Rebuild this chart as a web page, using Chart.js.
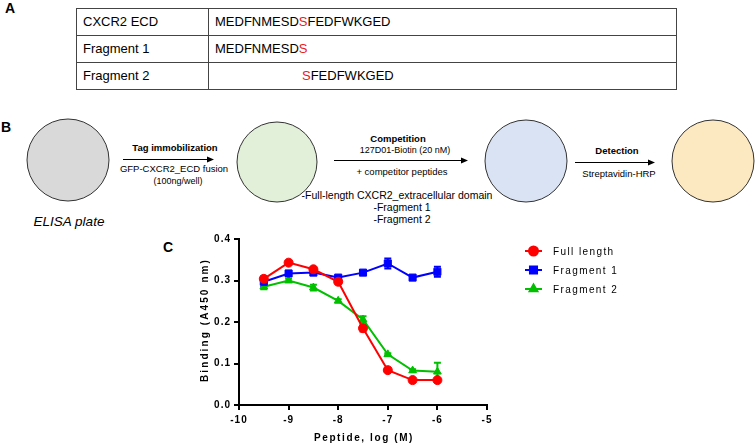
<!DOCTYPE html>
<html>
<head>
<meta charset="utf-8">
<script src="https://cdn.jsdelivr.net/npm/chart.js@4.4.1/dist/chart.umd.min.js"></script>
<style>
  body { margin: 0; background: #fff; width: 755px; height: 443px; overflow: hidden; position: relative; font-family: "Liberation Sans", Arial, sans-serif; }
  #fig { position: absolute; left: 0; top: 0; }
  #chartBox { position: absolute; left: 160px; top: 225px; width: 595px; height: 218px; }
</style>
</head>
<body>
<svg id="fig" width="755" height="443" font-family="Liberation Sans, Arial, sans-serif">
  <!-- panel letters -->
  <text x="5" y="13" font-size="14" font-weight="bold">A</text>
  <text x="1" y="132" font-size="14" font-weight="bold">B</text>
  <text x="163" y="252" font-size="14" font-weight="bold">C</text>

  <!-- A: peptide table -->
  <g stroke="#444" stroke-width="1" fill="none">
    <rect x="76.5" y="8.5" width="600" height="81"/>
    <line x1="76.5" y1="35.5" x2="676.5" y2="35.5"/>
    <line x1="76.5" y1="62.5" x2="676.5" y2="62.5"/>
    <line x1="208.5" y1="8.5" x2="208.5" y2="89.5"/>
  </g>
  <g font-size="13" fill="#000">
    <text x="83" y="26">CXCR2 ECD</text>
    <text x="83" y="53">Fragment 1</text>
    <text x="83" y="80">Fragment 2</text>
    <text x="215" y="26">MEDFNMESD<tspan fill="#e8201c">S</tspan>FEDFWKGED</text>
    <text x="215" y="53">MEDFNMESD<tspan fill="#e8201c">S</tspan></text>
    <text x="302" y="80"><tspan fill="#e8201c">S</tspan>FEDFWKGED</text>
  </g>

  <!-- B: assay schematic -->
  <g stroke="#333" stroke-width="1">
    <circle cx="68" cy="160" r="41" fill="#d9d9d9"/>
    <circle cx="277" cy="162" r="40" fill="#e2efd9"/>
    <circle cx="526" cy="161" r="41" fill="#dae3f3"/>
    <circle cx="713" cy="161" r="41" fill="#fde9c1"/>
  </g>
  <text x="69" y="226" font-size="13.5" font-style="italic" text-anchor="middle">ELISA plate</text>

  <g stroke="#000" stroke-width="1">
    <line x1="123" y1="159.5" x2="208" y2="159.5"/>
    <line x1="334" y1="160.5" x2="462" y2="160.5"/>
    <line x1="575" y1="162.5" x2="649" y2="162.5"/>
  </g>
  <g fill="#000">
    <polygon points="207,156.5 214,159.5 207,162.5"/>
    <polygon points="461,157.5 468,160.5 461,163.5"/>
    <polygon points="648,159.5 655,162.5 648,165.5"/>
  </g>

  <g text-anchor="middle" fill="#000">
    <text x="175" y="151" font-size="9.5" font-weight="bold">Tag immobilization</text>
    <text x="174" y="172" font-size="9.5">GFP-CXCR2_ECD fusion</text>
    <text x="178" y="184" font-size="9">(100ng/well)</text>

    <text x="398" y="142" font-size="9.5" font-weight="bold">Competition</text>
    <text x="405" y="153" font-size="9">127D01-Biotin (20 nM)</text>
    <text x="402" y="175" font-size="9.5">+ competitor peptides</text>
    <text x="397" y="199" font-size="10.5">-Full-length CXCR2_extracellular domain</text>
    <text x="402" y="211" font-size="10.5">-Fragment 1</text>
    <text x="402" y="223" font-size="10.5">-Fragment 2</text>

    <text x="617" y="154" font-size="9.5" font-weight="bold">Detection</text>
    <text x="619" y="177" font-size="9.5">Streptavidin-HRP</text>
  </g>
</svg>

<div id="chartBox"><canvas id="bindingChart"></canvas></div>

<script>
// peptide concentration, log(M)
const concentrations = [-9.5, -9, -8.5, -8, -7.5, -7, -6.5, -6];

// binding, A450 nm (mean and SEM)
const fullLength = [0.304, 0.343, 0.327, 0.297, 0.185, 0.084, 0.060, 0.060];
const fullLengthErr = [0.006, 0.004, 0.004, 0.005, 0.008, 0.004, 0.003, 0.003];
const fragment1 = [0.297, 0.317, 0.319, 0.307, 0.319, 0.341, 0.307, 0.321];
const fragment1Err = [0.012, 0.006, 0.005, 0.004, 0.004, 0.012, 0.004, 0.012];
const fragment2 = [0.285, 0.300, 0.283, 0.251, 0.206, 0.122, 0.083, 0.080];
const fragment2Err = [0.006, 0.004, 0.007, 0.004, 0.008, 0.003, 0.003, 0.022];

const seriesNames = ['Full length', 'Fragment 1', 'Fragment 2'];
const xTicks = [-10, -9, -8, -7, -6, -5];
const yTicks = [0, 0.1, 0.2, 0.3, 0.4];

const FONT = '"Liberation Sans", Arial, sans-serif';

function points(values) {
  return concentrations.map((x, i) => ({ x: x, y: values[i] }));
}

// vertical SEM bars with caps, drawn under the markers
const errorBars = {
  id: 'errorBars',
  beforeDatasetsDraw(chart) {
    const ctx = chart.ctx;
    const xs = chart.scales.x, ys = chart.scales.y;
    chart.data.datasets.forEach(ds => {
      if (!ds.errors) return;
      ctx.save();
      ctx.strokeStyle = ds.borderColor;
      ctx.lineWidth = 2;
      ds.data.forEach((p, i) => {
        const px = xs.getPixelForValue(p.x);
        const top = ys.getPixelForValue(p.y + ds.errors[i]);
        const bot = ys.getPixelForValue(p.y - ds.errors[i]);
        ctx.beginPath();
        ctx.moveTo(px, top); ctx.lineTo(px, bot);
        ctx.moveTo(px - 3.5, top); ctx.lineTo(px + 3.5, top);
        ctx.moveTo(px - 3.5, bot); ctx.lineTo(px + 3.5, bot);
        ctx.stroke();
      });
      ctx.restore();
    });
  }
};

// axis titles and legend in Prism style (spaced letters)
const decorations = {
  id: 'decorations',
  beforeDraw(chart) {
    chart.ctx.letterSpacing = '1px';
  },
  afterDraw(chart) {
    const ctx = chart.ctx;
    const area = chart.chartArea;
    ctx.save();
    ctx.fillStyle = '#000';
    ctx.font = 'bold 10px ' + FONT;
    ctx.textAlign = 'center';
    ctx.textBaseline = 'middle';
    ctx.letterSpacing = '1.6px';
    ctx.fillText('Peptide, log (M)', (area.left + area.right) / 2 + 1, 213);
    ctx.save();
    ctx.letterSpacing = '2.1px';
    ctx.translate(45, (area.top + area.bottom) / 2 - 2);
    ctx.rotate(-Math.PI / 2);
    ctx.fillText('Binding (A450 nm)', 0, 0);
    ctx.restore();

    // legend
    ctx.font = '10px ' + FONT;
    ctx.letterSpacing = '1.4px';
    ctx.textAlign = 'left';
    chart.data.datasets.forEach((ds, i) => {
      const y = 26 + i * 19;
      ctx.strokeStyle = ds.borderColor;
      ctx.lineWidth = 2;
      ctx.beginPath();
      ctx.moveTo(365, y); ctx.lineTo(382, y);
      ctx.stroke();
      ctx.fillStyle = ds.borderColor;
      Chart.helpers.drawPoint(ctx, {
        pointStyle: ds.pointStyle, radius: ds.pointRadius, borderWidth: 1
      }, 373.5, y);
      ctx.fillStyle = '#000';
      ctx.fillText(ds.label, 393, y + 1);
    });
    ctx.restore();
  }
};

function series(label, values, errs, color, style, radius) {
  return {
    label: label,
    data: points(values),
    errors: errs,
    borderColor: color,
    backgroundColor: color,
    pointBackgroundColor: color,
    pointBorderColor: color,
    pointStyle: style,
    pointRadius: radius,
    pointBorderWidth: 1,
    borderWidth: 2,
    tension: 0
  };
}

const ctx = document.getElementById('bindingChart').getContext('2d');
new Chart(ctx, {
  type: 'line',
  data: {
    datasets: [
      series(seriesNames[0], fullLength, fullLengthErr, '#ff0000', 'circle', 4.5),
      series(seriesNames[1], fragment1, fragment1Err, '#0000ff', 'rect', 5),
      series(seriesNames[2], fragment2, fragment2Err, '#00c000', 'triangle', 4.5)
    ]
  },
  options: {
    responsive: true,
    maintainAspectRatio: false,
    animation: false,
    layout: { padding: { top: 14, right: 268, left: 0, bottom: 0 } },
    plugins: { legend: { display: false }, tooltip: { enabled: false } },
    scales: {
      x: {
        type: 'linear',
        min: -10, max: -5,
        afterFit(s) { s.height = 38; },
        afterBuildTicks(s) { s.ticks = xTicks.map(v => ({ value: v })); },
        border: { color: '#000', width: 2 },
        grid: { drawOnChartArea: false, drawTicks: true, tickLength: 5, color: '#000', lineWidth: 2 },
        ticks: { color: '#000', padding: 4, font: { family: FONT, size: 10, weight: 'bold' },
          callback: v => String(v) }
      },
      y: {
        min: 0, max: 0.4,
        afterFit(s) { s.width = 79; },
        afterBuildTicks(s) { s.ticks = yTicks.map(v => ({ value: v })); },
        border: { color: '#000', width: 2 },
        grid: { drawOnChartArea: false, drawTicks: true, tickLength: 5, color: '#000', lineWidth: 2 },
        ticks: { color: '#000', padding: 3, font: { family: FONT, size: 10, weight: 'bold' },
          callback: v => v.toFixed(1) }
      }
    }
  },
  plugins: [errorBars, decorations]
});
</script>
</body>
</html>
